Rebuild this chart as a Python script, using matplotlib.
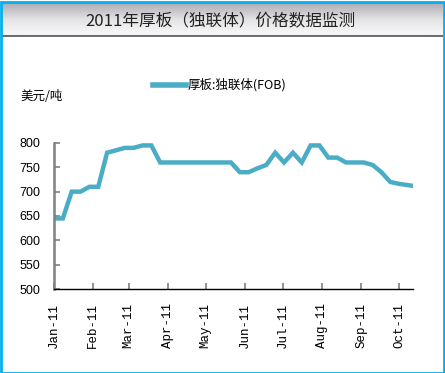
import numpy as np
import pandas as pd
import matplotlib
matplotlib.use("Agg")
import matplotlib.pyplot as plt
import matplotlib.dates as mdates
from matplotlib.patches import Rectangle

plt.rcParams['font.family'] = ['Noto Sans CJK SC', 'DejaVu Sans']

title = "2011年厚板（独联体）价格数据监测"
unit_label = "美元/吨"
series_name = "厚板:独联体(FOB)"

# weekly observations, Jan-Oct 2011 (last reading on Oct 12)
dates = list(pd.date_range("2011-01-01", periods=40, freq="7D")) + [pd.Timestamp("2011-10-12")]
prices = [645, 645, 700, 700, 710, 710, 780, 785, 790, 790,
          795, 795, 760, 760, 760, 760, 760, 760, 760, 760,
          760, 740, 740, 748, 755, 780, 760, 780, 760, 795,
          795, 770, 770, 760, 760, 760, 755, 740, 720, 716,
          712]
y_ticks = [500, 550, 600, 650, 700, 750, 800]

W, H = 445, 373
fig = plt.figure(figsize=(W / 100, H / 100), dpi=100)
fig.patch.set_facecolor("white")

# title bar with a grey gradient
bar = fig.add_axes([2 / W, 1 - 37 / H, 1 - 4 / W, 35 / H])
grad = np.linspace(0, 1, 100).reshape(-1, 1)
cmap = matplotlib.colors.LinearSegmentedColormap.from_list(
    "bar", ["#fbfbfb", "#e4e4e6", "#a9a9b0"])
bar.imshow(grad, aspect="auto", cmap=cmap, extent=[0, 1, 1, 0])
bar.axhline(0.02, color="#6d6d78", lw=1.5)
bar.set_xlim(0, 1)
bar.set_ylim(0, 1)
bar.axis("off")
fig.text(0.495, 1 - 22 / H, title, ha="center", va="center", fontsize=12, color="#222222")

# outer cyan frame
fig.patches.append(Rectangle((0.5 / W, 0.5 / H), 1 - 2 / W, 1 - 2 / H, transform=fig.transFigure,
                             fill=False, edgecolor="#00b0f0", lw=2))

ax = fig.add_axes([54 / W, 1 - 289 / H, (413 - 54) / W, (289 - 143) / H])
ax.plot(dates, prices, color="#4bacc6", lw=3.2, solid_joinstyle="miter", label=series_name)

ax.set_ylim(500, 800)
ax.set_yticks(y_ticks)
ax.set_xlim(dates[0], dates[-1])
ax.xaxis.set_major_locator(mdates.MonthLocator())
ax.xaxis.set_major_formatter(mdates.DateFormatter("%b-%y"))

for s in ["top", "right"]:
    ax.spines[s].set_visible(False)
ax.spines["left"].set_color("#808080")
ax.spines["left"].set_linewidth(1.8)
ax.spines["bottom"].set_color("black")
ax.spines["bottom"].set_linewidth(1.0)

ax.tick_params(axis="y", direction="in", length=4, color="#808080", width=1.2,
               labelsize=9, pad=10)
ax.tick_params(axis="x", direction="in", length=4, color="#808080", width=1.2,
               labelsize=9, pad=10, rotation=90)
for lab in ax.get_yticklabels():
    lab.set_family(["Liberation Sans", "DejaVu Sans"])
for lab in ax.get_xticklabels():
    lab.set_family(["Liberation Mono", "DejaVu Sans Mono"])
    lab.set_va("top")

fig.text(20 / W, 1 - 96 / H, unit_label, ha="left", va="center", fontsize=9)

leg = ax.legend(loc="lower left", bbox_to_anchor=(148 / W, 1 - 97 / H), bbox_transform=fig.transFigure,
                frameon=False, fontsize=9, handlelength=2.6, handletextpad=0.2, borderaxespad=0)
leg.get_lines()[0].set_linewidth(4)

fig.savefig("out.png", dpi=100)
